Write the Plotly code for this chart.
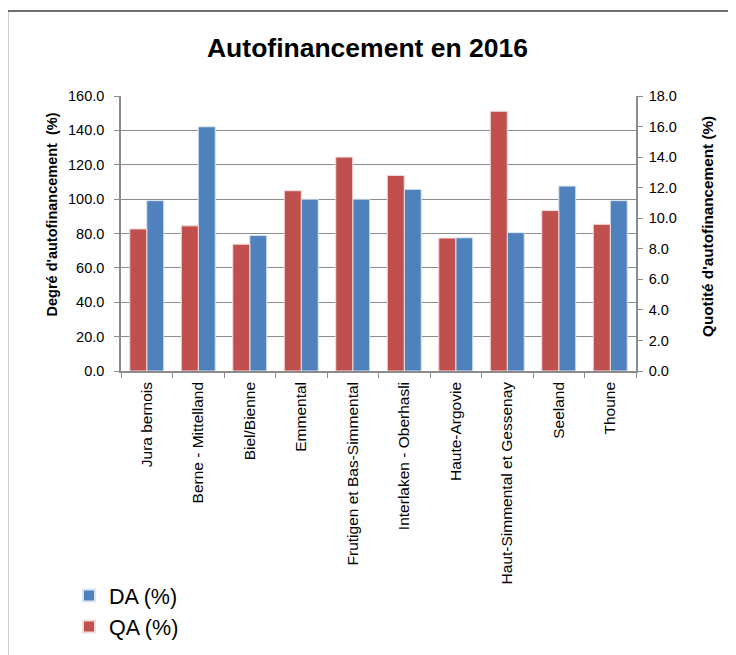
import plotly.graph_objects as go

# --- Data ---
regions = [
    "Jura bernois", "Berne - Mittelland", "Biel/Bienne", "Emmental",
    "Frutigen et Bas-Simmental", "Interlaken - Oberhasli", "Haute-Argovie",
    "Haut-Simmental et Gessenay", "Seeland", "Thoune",
]
da_values = [99.1, 142.1, 78.9, 100.0, 100.0, 105.7, 77.5, 80.5, 107.6, 99.1]
qa_values = [9.3, 9.5, 8.3, 11.8, 14.0, 12.8, 8.7, 17.0, 10.5, 9.6]
left_ticks = [0, 20, 40, 60, 80, 100, 120, 140, 160]
right_ticks = [0, 2, 4, 6, 8, 10, 12, 14, 16, 18]

BLUE = "#4F81BD"
RED = "#C0504D"
GRID = "#8C8C8C"
FONT = "Liberation Sans, Arial, sans-serif"

# page body adds an 8px margin, so positions below are screen px minus 8
OFF = 8
W, H = 736, 655
L, R, T, B = 121 - OFF, 636 - OFF, 96 - OFF, 371 - OFF


def px_x(x):
    return (x - OFF - L) / (R - L)


def px_y(y):
    return (B - (y - OFF)) / (B - T)


fig = go.Figure()

fig.add_trace(go.Bar(
    x=regions, y=da_values, name="DA (%)", yaxis="y",
    marker=dict(color=BLUE, line=dict(color="#DCE6F2", width=1)),
    offset=0.0, width=0.33,
))
fig.add_trace(go.Bar(
    x=regions, y=qa_values, name="QA (%)", yaxis="y2",
    marker=dict(color=RED, line=dict(color="#F2DCDB", width=1)),
    offset=-0.33, width=0.33,
))

# outer frame (right and bottom edges fall outside the picture)
fig.add_shape(type="rect", xref="paper", yref="paper",
              x0=px_x(7.5), x1=px_x(780), y0=px_y(700), y1=px_y(11),
              line=dict(color="#404040", width=1.5), layer="below")

# axis titles as annotations for exact placement
fig.add_annotation(text="<b>Degré d'autofinancement  (%)</b>", textangle=-90,
                   xref="paper", yref="paper", x=px_x(51.5), y=px_y(215),
                   xanchor="center", yanchor="middle",
                   showarrow=False, font=dict(size=14.5, family=FONT))
fig.add_annotation(text="<b>Quotité d'autofinancement (%)</b>", textangle=-90,
                   xref="paper", yref="paper", x=px_x(707), y=px_y(227),
                   xanchor="center", yanchor="middle",
                   showarrow=False, font=dict(size=15.3, family=FONT))

fig.update_layout(
    width=W, height=H,
    margin=dict(l=L, r=W - R, t=T, b=H - B, autoexpand=False),
    paper_bgcolor="white", plot_bgcolor="white",
    font=dict(family=FONT, color="black", size=14),
    title=dict(text="<b>Autofinancement en 2016</b>",
               x=(367.5 - OFF) / W, xref="container", xanchor="center",
               y=1 - (48 - OFF) / H, yref="container", yanchor="middle",
               font=dict(size=26.5, family=FONT)),
    barmode="overlay",
    showlegend=True,
    legend=dict(x=px_x(69), y=px_y(575), xanchor="left", yanchor="top",
                font=dict(size=21.5, family=FONT), traceorder="normal",
                bgcolor="rgba(0,0,0,0)", itemsizing="constant",
                tracegroupgap=4),
    xaxis=dict(
        type="category", tickangle=-90, tickson="boundaries",
        ticks="outside", ticklen=5, tickcolor=GRID,
        showline=True, linecolor=GRID, linewidth=1.5,
        showgrid=False, tickfont=dict(size=15.5), automargin=False,
        ticklabelstandoff=3,
    ),
    yaxis=dict(
        range=[0, 160], tickvals=left_ticks, tickformat=".1f",
        ticks="outside", ticklen=5, tickcolor=GRID,
        showline=True, linecolor=GRID, linewidth=1.5,
        showgrid=True, gridcolor=GRID, gridwidth=1.3,
        zeroline=False, automargin=False,
        tickfont=dict(size=14.5), ticklabelstandoff=7,
    ),
    yaxis2=dict(
        range=[0, 18], tickvals=right_ticks, tickformat=".1f",
        overlaying="y", side="right",
        ticks="outside", ticklen=5, tickcolor=GRID,
        showline=True, linecolor=GRID, linewidth=1.5,
        showgrid=False, zeroline=False, automargin=False,
        tickfont=dict(size=14.5), ticklabelstandoff=3,
    ),
)

fig.write_html("out.html")
